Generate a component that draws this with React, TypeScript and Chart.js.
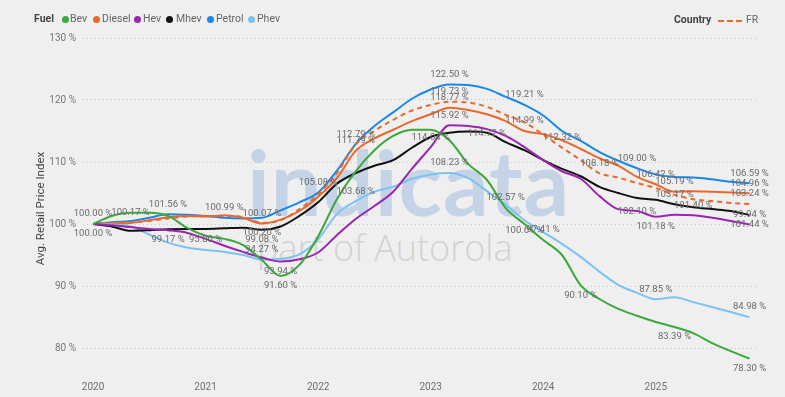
import React, { useEffect, useRef } from "react";
import { Chart, registerables } from "chart.js";

Chart.register(...registerables);

// Months since Jan 2020 (every two months)
const MONTHS = [0, 2, 4, 6, 8, 10, 12, 14, 16, 18, 20, 22, 24, 26, 28, 30, 32, 34, 36, 38, 40, 42, 44, 46, 48, 50, 52, 54, 56, 58, 60, 62, 64, 66, 68, 70];
const YEAR_TICKS = [2020, 2021, 2022, 2023, 2024, 2025];
const Y_TICKS = [80, 90, 100, 110, 120, 130];

const BEV = [100.0, 101.3, 101.8, 101.8, 101.3, 99.4, 98.1, 97.6, 96.6, 94.2, 91.6, 93.4, 98.0, 104.0, 108.5, 111.9, 114.2, 115.2, 115.2, 113.5, 109.7, 107.1, 102.57, 100.0, 97.41, 95.0, 90.1, 87.9, 86.3, 85.2, 84.2, 83.39, 82.4, 80.8, 79.5, 78.3];
const DIESEL = [100.0, 100.1, 100.17, 100.6, 101.1, 101.3, 101.2, 101.4, 101.0, 100.07, 100.7, 102.1, 104.4, 107.4, 111.79, 113.8, 115.2, 116.6, 117.7, 118.77, 118.4, 117.7, 116.6, 114.99, 114.5, 113.5, 112.1, 110.6, 109.4, 107.6, 106.42, 105.19, 105.3, 105.2, 105.1, 104.96];
const HEV = [100.0, 99.8, 99.5, 99.2, 99.0, 98.6, 97.6, 96.5, 95.5, 94.6, 93.94, 94.3, 95.4, 98.2, 100.8, 102.9, 105.2, 108.9, 112.4, 115.92, 115.8, 115.3, 114.2, 112.4, 110.3, 108.5, 107.3, 104.5, 102.4, 102.1, 101.18, 101.5, 101.4, 101.0, 100.5, 99.94];
const MHEV = [100.0, 99.6, 98.9, 99.0, 99.17, 99.2, 99.2, 99.3, 99.4, 99.08, 99.6, 101.3, 103.5, 106.5, 108.2, 109.4, 110.3, 112.3, 114.04, 114.7, 114.9, 114.72, 113.2, 111.9, 110.3, 108.9, 107.7, 106.0, 105.0, 104.2, 103.9, 103.17, 102.7, 102.4, 102.1, 101.44];
const PETROL = [100.0, 100.3, 100.5, 101.0, 101.56, 101.5, 101.3, 100.99, 100.9, 101.0, 102.2, 103.5, 105.08, 108.6, 112.9, 115.8, 118.0, 120.2, 121.7, 122.5, 122.4, 121.8, 120.5, 119.21, 117.5, 115.0, 113.4, 111.6, 110.2, 109.0, 108.0, 107.6, 107.5, 107.2, 106.8, 106.59];
const PHEV = [100.0, 99.9, 99.6, 98.3, 97.0, 96.2, 95.8, 95.5, 95.0, 94.27, 94.4, 95.1, 97.5, 101.6, 103.68, 105.2, 106.0, 107.3, 108.0, 108.23, 107.4, 105.3, 103.1, 100.61, 98.7, 96.8, 94.7, 92.3, 90.2, 88.9, 87.85, 88.2, 87.4, 86.6, 85.8, 84.98];
const FR = [100.0, 100.2, 100.3, 100.5, 100.9, 101.2, 101.3, 101.3, 101.1, 100.2, 100.6, 102.4, 104.8, 108.2, 112.79, 115.0, 116.8, 118.3, 119.2, 119.73, 119.6, 118.9, 117.6, 116.4, 114.4, 112.32, 110.3, 108.18, 107.5, 106.6, 105.8, 104.7, 104.0, 103.7, 103.4, 103.24];

// indices of points that carry a data label, and where the label sits
const BEV_LABELS = [10, 22, 24, 26, 31, 35];
const BEV_LABEL_POS = ["below", "above", "above", "below", "below", "below"];
const DIESEL_LABELS = [2, 9, 14, 19, 23, 30, 31, 35];
const DIESEL_LABEL_POS = ["above", "above", "above", "above", "above", "above", "above", "above"];
const HEV_LABELS = [10, 19, 29, 30, 32, 35];
const HEV_LABEL_POS = ["below", "above", "center", "below", "above", "above"];
const MHEV_LABELS = [0, 4, 9, 18, 21, 31, 35];
const MHEV_LABEL_POS = ["below", "below", "below", "center", "center", "above", "below"];
const PETROL_LABELS = [0, 4, 7, 12, 19, 23, 29, 35];
const PETROL_LABEL_POS = ["above", "above", "above", "above", "above", "above", "above", "above"];
const PHEV_LABELS = [6, 9, 14, 19, 23, 30, 35];
const PHEV_LABEL_POS = ["above", "above", "above", "above", "below", "above", "above"];
const FR_LABELS = [9, 14, 19, 25, 27, 35];
const FR_LABEL_POS = ["below", "above", "above", "above", "above", "above"];

const FUEL_NAMES = ["Bev", "Diesel", "Hev", "Mhev", "Petrol", "Phev"];
const FUEL_COLORS = ["#3aa83a", "#e8692d", "#9b24b0", "#111111", "#1a87ec", "#7dc2f0"];
const COUNTRY = "FR";

const FONT = "Roboto, 'Open Sans', sans-serif";

const labelPlugin = {
  id: "pointLabels",
  afterDatasetsDraw(chart: any) {
    const ctx = chart.ctx;
    ctx.save();
    ctx.font = `9.5px ${FONT}`;
    ctx.fillStyle = "#6a6a6a";
    ctx.textAlign = "center";
    ctx.textBaseline = "middle";
    chart.data.datasets.forEach((ds: any, di: number) => {
      const meta = chart.getDatasetMeta(di);
      (ds.labelIdx || []).forEach((idx: number, k: number) => {
        const pt = meta.data[idx];
        if (!pt) return;
        const pos = ds.labelPos[k];
        const dy = pos === "above" ? -10 : pos === "below" ? 10 : 1;
        const v = ds.data[idx].y;
        ctx.fillText(`${v.toFixed(2)} %`, pt.x, pt.y + dy);
      });
    });
    ctx.restore();
  },
};

function series(values: number[]) {
  return values.map((v, i) => ({ x: MONTHS[i], y: v }));
}

export default function App() {
  const ref = useRef<HTMLCanvasElement | null>(null);

  useEffect(() => {
    if (!ref.current) return;
    const mk = (name: string, values: number[], color: string, labels: number[], pos: string[], dash?: number[]) => ({
      label: name,
      data: series(values),
      borderColor: color,
      backgroundColor: color,
      borderWidth: 2,
      borderDash: dash || [],
      pointRadius: 0,
      cubicInterpolationMode: "monotone",
      labelIdx: labels,
      labelPos: pos,
    });
    const chart = new Chart(ref.current, {
      type: "line",
      data: {
        datasets: [
          mk(FUEL_NAMES[0], BEV, FUEL_COLORS[0], BEV_LABELS, BEV_LABEL_POS),
          mk(FUEL_NAMES[2], HEV, FUEL_COLORS[2], HEV_LABELS, HEV_LABEL_POS),
          mk(FUEL_NAMES[3], MHEV, FUEL_COLORS[3], MHEV_LABELS, MHEV_LABEL_POS),
          mk(FUEL_NAMES[5], PHEV, FUEL_COLORS[5], PHEV_LABELS, PHEV_LABEL_POS),
          mk(COUNTRY, FR, FUEL_COLORS[1], FR_LABELS, FR_LABEL_POS, [5, 4]),
          mk(FUEL_NAMES[1], DIESEL, FUEL_COLORS[1], DIESEL_LABELS, DIESEL_LABEL_POS),
          mk(FUEL_NAMES[4], PETROL, FUEL_COLORS[4], PETROL_LABELS, PETROL_LABEL_POS),
        ] as any,
      },
      options: {
        animation: false,
        responsive: false,
        maintainAspectRatio: false,
        layout: { padding: { top: 38, right: 27, bottom: 0, left: 0 } },
        plugins: { legend: { display: false }, tooltip: { enabled: false } },
        scales: {
          x: {
            type: "linear",
            min: -1.07,
            max: 70.9,
            grid: { display: false, drawTicks: false },
            border: { display: false },
            ticks: {
              color: "#6f6f6f",
              font: { size: 10, family: FONT },
              padding: 2,
              maxRotation: 0,
              autoSkip: false,
              callback: (v: any) => String(2020 + Math.round(Number(v) / 12)),
            },
            afterBuildTicks: (s: any) => {
              s.ticks = YEAR_TICKS.map((y) => ({ value: (y - 2020) * 12 }));
            },
            afterFit: (s: any) => {
              s.height = 18;
            },
          },
          y: {
            min: 75,
            max: 130,
            grid: { color: "#c9c9c9", lineWidth: 1, drawTicks: false },
            border: { display: false, dash: [1, 3] },
            ticks: {
              color: "#777",
              font: { size: 10, family: FONT },
              padding: 7,
              callback: (v: any) => `${v} %`,
            },
            afterBuildTicks: (s: any) => {
              s.ticks = Y_TICKS.map((v) => ({ value: v }));
            },
            title: {
              display: true,
              text: "Avg. Retail Price Index",
              color: "#444",
              font: { size: 11.5, family: FONT },
              padding: { top: 34, bottom: 0 },
            },
            afterFit: (s: any) => {
              s.width = 83;
            },
          },
        },
      } as any,
      plugins: [labelPlugin],
    });
    return () => chart.destroy();
  }, []);

  const legendItems = [
    { dot: 65.5, text: 70 },
    { dot: 96, text: 102 },
    { dot: 137, text: 143 },
    { dot: 169.5, text: 176 },
    { dot: 210, text: 216 },
    { dot: 251.5, text: 257 },
  ];

  return (
    <div style={{ position: "fixed", left: 0, top: 0, width: 785, height: 397, background: "#efefef", overflow: "hidden", fontFamily: FONT }}>
      {/* watermark */}
      <div style={{ position: "absolute", left: 247, top: 135, fontFamily: "Lato, 'Open Sans', sans-serif", fontWeight: 700, fontSize: 90, lineHeight: "92px", color: "#c5d3e6", letterSpacing: 1 }}>indicata</div>
      <div style={{ position: "absolute", left: 257, top: 228, fontFamily: "'Open Sans', sans-serif", fontWeight: 300, fontSize: 36, lineHeight: "40px", color: "#d2d2d2" }}>part of Autorola</div>
      <canvas ref={ref} width={785} height={397} style={{ position: "absolute", left: 0, top: 0, width: 785, height: 397, display: "block" }} />
      {/* legend: fuel */}
      <div style={{ position: "absolute", left: 34, top: 12, fontSize: 10.5, fontWeight: 700, color: "#444", lineHeight: "14px" }}>Fuel</div>
      {legendItems.map((it, i) => (
        <React.Fragment key={FUEL_NAMES[i]}>
          <div style={{ position: "absolute", left: it.dot - 3.5, top: 15.5, width: 7, height: 7, borderRadius: "50%", background: FUEL_COLORS[i] }} />
          <div style={{ position: "absolute", left: it.text, top: 12, fontSize: 10.5, color: "#666", lineHeight: "14px" }}>{FUEL_NAMES[i]}</div>
        </React.Fragment>
      ))}
      {/* legend: country */}
      <div style={{ position: "absolute", left: 674, top: 13, fontSize: 10.5, fontWeight: 700, color: "#444", lineHeight: "14px" }}>Country</div>
      <div style={{ position: "absolute", left: 718, top: 20, width: 24, height: 0, borderTop: `2px dashed ${FUEL_COLORS[1]}` }} />
      <div style={{ position: "absolute", left: 746, top: 13, fontSize: 10.5, color: "#666", lineHeight: "14px" }}>{COUNTRY}</div>
    </div>
  );
}
